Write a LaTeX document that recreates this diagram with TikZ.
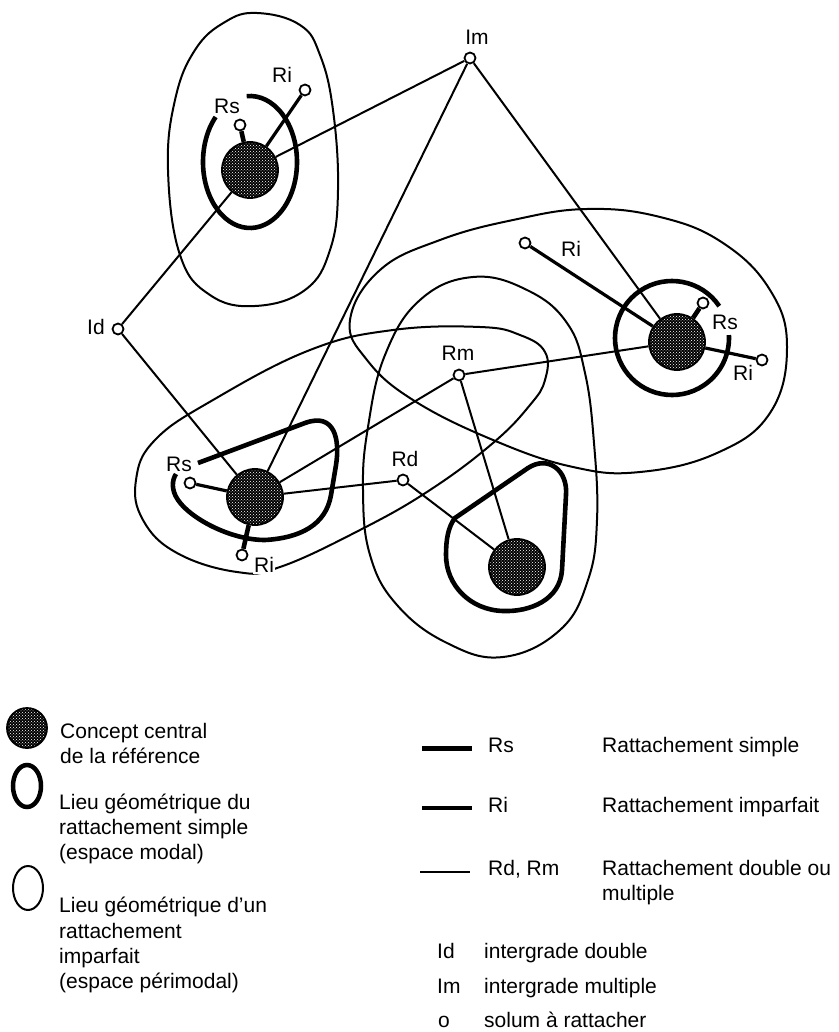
\documentclass[tikz,border=0pt]{standalone}
\usepackage{fontspec}
\setmainfont{Liberation Sans}
\usetikzlibrary{patterns}

\tikzset{
  concept/.style={circle,draw,line width=1.8pt,minimum size=56pt,inner sep=0pt,
    preaction={fill=black},pattern=crosshatch dots,pattern color=white},
  solum/.style={circle,draw,line width=1.8pt,fill=white,minimum size=11pt,inner sep=0pt},
  lbl/.style={inner sep=1pt},
  legtxt/.style={anchor=base west,inner sep=0pt},
  rd/.style={line width=2pt},
  ri/.style={line width=3.2pt},
  rs/.style={line width=4.6pt},
  espace/.style={line width=2pt},
}

\begin{document}
\begin{tikzpicture}[x=1pt,y=-1pt,font=\fontsize{21}{25}\selectfont]
\useasboundingbox (0,0) rectangle (838,1032);

% espaces perimodaux
\draw[espace] plot[smooth cycle,tension=0.7] coordinates {(257,13) (300,25) (320,55) (333,110) (338,190) (330,250) (305,290) (255,306) (210,295) (180,255) (168,170) (175,100) (195,50) (225,22)};
\draw[espace] plot[smooth cycle,tension=0.7] coordinates {(480,327) (520,335) (545,352) (545,380) (530,405) (493,443) (430,490) (360,530) (280,567) (237,572) (177,553) (143,520) (136,480) (155,440) (213,400) (310,350) (393,330)};
\draw[espace] plot[smooth cycle,tension=0.7] coordinates {(350,320) (380,270) (440,240) (513,220) (587,209) (660,217) (723,243) (770,290) (787,347) (770,413) (717,453) (640,472) (573,467) (493,440) (413,400) (367,360)};
\draw[espace] plot[smooth cycle,tension=0.7] coordinates {(473,277) (527,290) (567,323) (585,373) (594,443) (597,520) (588,580) (560,630) (503,657) (447,643) (397,605) (370,555) (363,490) (368,427) (385,355) (420,300)};

% espaces modaux
\coordinate (m1) at (250,162);
\coordinate (m3) at (672,338);
\draw[rs] ([shift={(137:47pt and 66pt)}]m1) arc[start angle=137,end angle=454,x radius=47pt,y radius=66pt];
\draw[rs] ([shift={(34:57pt)}]m3) arc[start angle=34,end angle=363,radius=57pt];
\draw[rs] (198,463) -- (305,423) .. controls (335,412) and (340,440) .. (336,465)
  -- (331,495) .. controls (326,525) and (300,538) .. (265,540)
  .. controls (230,540) and (190,518) .. (178,500) .. controls (171,490) and (172,480) .. (176,474);
\draw[rs] (455,518) -- (528,468) .. controls (548,455) and (568,470) .. (566,495)
  -- (562,570) .. controls (560,600) and (530,612) .. (503,611)
  .. controls (470,610) and (446,585) .. (446,555) .. controls (446,540) and (448,527) .. (455,518) -- cycle;

% concepts centraux
\node[concept] (c1) at (250,170) {};
\node[concept] (c2) at (255,497) {};
\node[concept] (c3) at (677,342) {};
\node[concept] (c4) at (517,567) {};

% solums
\node[solum] (im) at (470,58) {};
\node[solum] (id) at (118,329) {};
\node[solum] (rm) at (459,375) {};
\node[solum] (rd) at (403,480) {};
\node[solum] (c1rs) at (240,125) {};
\node[solum] (c1ri) at (305,90) {};
\node[solum] (c3ri1) at (525,243) {};
\node[solum] (c3rs) at (703,303) {};
\node[solum] (c3ri2) at (762,360) {};
\node[solum] (c2rs) at (190,483) {};
\node[solum] (c2ri) at (242,555) {};

% rattachements
\draw[rd] (im) -- (c1);
\draw[rd] (im) -- (c2);
\draw[rd] (im) -- (c3);
\draw[rd] (id) -- (c1);
\draw[rd] (id) -- (c2);
\draw[rd] (rm) -- (c2);
\draw[rd] (rm) -- (c3);
\draw[rd] (rm) -- (c4);
\draw[rd] (rd) -- (c2);
\draw[rd] (rd) -- (c4);
\draw[ri] (c1) -- (c1ri);
\draw[ri] (c3) -- (c3ri1);
\draw[ri] (c3) -- (c3ri2);
\draw[ri] (c2) -- (c2rs);
\draw[rs] (c1) -- (c1rs);
\draw[rs] (c3) -- (c3rs);
\draw[rs] (c2) -- (c2ri);

% etiquettes
\node[lbl] (l-im) at (477,37) {Im};
\node[lbl] (l-id) at (96,327) {Id};
\node[lbl] (l-rm) at (458,353) {Rm};
\node[lbl] (l-rd) at (405,459) {Rd};
\node[lbl] (l-c1rs) at (227,106) {Rs};
\node[lbl] (l-c1ri) at (282,75) {Ri};
\node[lbl] (l-c3ri1) at (571,249) {Ri};
\node[lbl] (l-c3rs) at (725,322) {Rs};
\node[lbl] (l-c3ri2) at (743,373) {Ri};
\node[lbl] (l-c2rs) at (179,464) {Rs};
\node[lbl,fill=white] (l-c2ri) at (264,565) {Ri};

% legende
\node[concept,minimum size=40pt] (leg-c) at (27,728) {};
\draw[line width=4.5pt] (27,786) ellipse[x radius=14pt,y radius=21pt];
\draw[espace] (28,888) ellipse[x radius=15pt,y radius=22pt];
\node[legtxt] (t1) at (60,738) {Concept central};
\node[legtxt] (t2) at (60,763) {de la référence};
\node[legtxt] (t3) at (59,809) {Lieu géométrique du};
\node[legtxt] (t4) at (59,834) {rattachement simple};
\node[legtxt] (t5) at (59,859) {(espace modal)};
\node[legtxt] (t6) at (59,912) {Lieu géométrique d'un};
\node[legtxt] (t7) at (59,938) {rattachement};
\node[legtxt] (t8) at (59,963) {imparfait};
\node[legtxt] (t9) at (59,988) {(espace périmodal)};

\draw[line width=5pt] (422,748) -- (472,748);
\draw[ri] (422,808) -- (472,808);
\draw[rd] (420,872) -- (470,872);
\node[legtxt] (k1) at (488,752) {Rs};
\node[legtxt] (k2) at (488,812) {Ri};
\node[legtxt] (k3) at (488,875) {Rd, Rm};
\node[legtxt] (d1) at (602,752) {Rattachement simple};
\node[legtxt] (d2) at (602,812) {Rattachement imparfait};
\node[legtxt] (d3) at (602,875) {Rattachement double ou};
\node[legtxt] (d4) at (602,900) {multiple};
\node[legtxt] (k4) at (437,958) {Id};
\node[legtxt] (k5) at (437,993) {Im};
\node[legtxt] (k6) at (438,1027) {o};
\node[legtxt] (d5) at (484,958) {intergrade double};
\node[legtxt] (d6) at (484,993) {intergrade multiple};
\node[legtxt] (d7) at (484,1027) {solum à rattacher};
\end{tikzpicture}
\end{document}
